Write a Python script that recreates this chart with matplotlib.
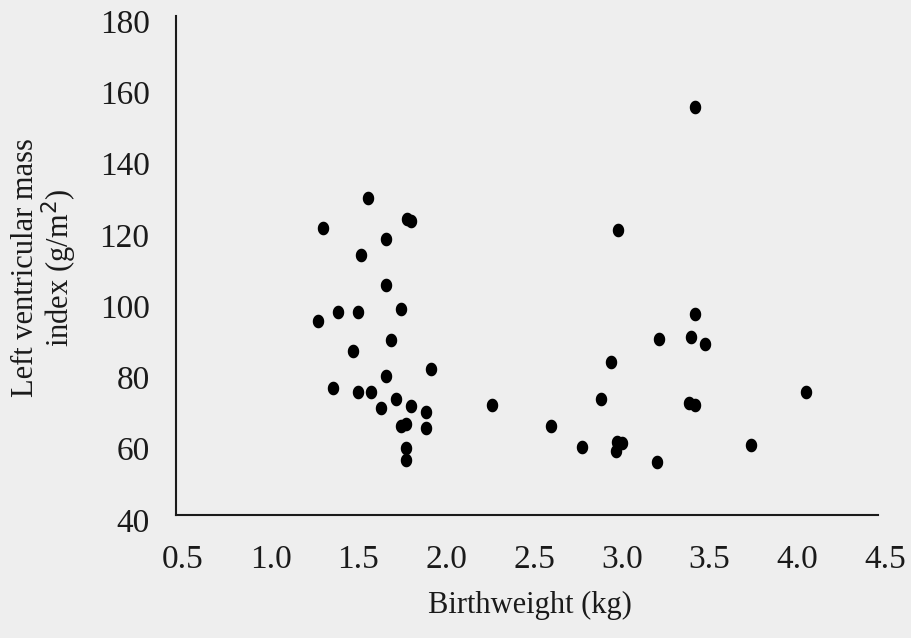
import numpy as np
import matplotlib
matplotlib.use("Agg")
import matplotlib.pyplot as plt
from matplotlib.path import Path
import matplotlib.transforms as mtransforms

birthweight = [1.592, 1.339, 1.815, 1.839, 1.695, 1.554, 1.695, 1.423, 1.535, 1.311,
               1.780, 1.725, 1.507, 1.951, 1.695, 1.395, 1.535, 1.609, 1.754, 1.668,
               1.839, 1.923, 1.923, 1.780, 1.811, 1.809, 1.809,
               3.457, 3.019, 3.457, 3.254, 3.434, 3.514, 2.979, 2.922, 2.299, 3.425,
               3.457, 4.088, 2.635, 2.812, 3.011, 3.040, 3.007, 3.239, 3.775]
lvmi = [128.9, 120.6, 123.0, 122.5, 117.4, 113.0, 104.5, 96.9, 96.9, 94.4,
        97.7, 89.2, 86.0, 81.0, 79.1, 75.7, 74.6, 74.6, 72.6, 70.1,
        70.7, 69.0, 64.5, 65.0, 65.4, 58.9, 55.4,
        154.4, 120.0, 96.4, 89.3, 90.0, 88.0, 82.9, 72.5, 70.9, 71.5,
        70.9, 74.5, 65.0, 59.2, 60.6, 60.1, 58.0, 55.0, 59.6]
x_ticks = [0.5, 1.0, 1.5, 2.0, 2.5, 3.0, 3.5, 4.0, 4.5]
y_ticks = [40, 60, 80, 100, 120, 140, 160, 180]

plt.rcParams['font.family'] = ['Liberation Serif', 'DejaVu Serif']
bg = '#eeeeee'
W, H = 912, 638
fig = plt.figure(figsize=(W / 100, H / 100), dpi=100, facecolor=bg)
ax = fig.add_axes([176 / W, (H - 515) / H, (878 - 176) / W, (515 - 16) / H])
ax.set_facecolor(bg)

t = np.linspace(0, 2 * np.pi, 60)
ell = Path(np.column_stack([0.84 * np.cos(t), np.sin(t)]), closed=True)
ax.plot(birthweight, lvmi, linestyle='none', marker=ell, markersize=9.8,
        color='black', markeredgewidth=0)

ax.set_xlim(0.5, 4.5)
ax.set_ylim(40, 180)
ax.set_xticks(x_ticks)
ax.set_xticklabels([f"{v:.1f}" for v in x_ticks])
ax.set_yticks(y_ticks)
ax.set_yticklabels([str(v) for v in y_ticks])
ax.tick_params(length=0, labelsize=24, colors='#1a1a1a')
ax.tick_params(axis='x', pad=21)
ax.tick_params(axis='y', pad=19)
for lab in ax.get_xticklabels():
    lab.set_transform(lab.get_transform() + mtransforms.ScaledTranslation(7 / 100, 0, fig.dpi_scale_trans))
for lab in ax.get_yticklabels():
    lab.set_transform(lab.get_transform() + mtransforms.ScaledTranslation(0, -5 / 100, fig.dpi_scale_trans))

for s in ['top', 'right']:
    ax.spines[s].set_visible(False)
for s in ['left', 'bottom']:
    ax.spines[s].set_linewidth(1.5)
    ax.spines[s].set_color('#1a1a1a')

fig.text(530 / W, 1 - 605 / H, 'Birthweight (kg)', ha='center', va='center',
         fontsize=22, color='#1a1a1a')
fig.text(45 / W, 1 - 268 / H, 'Left ventricular mass\nindex (g/m$^2$)', ha='center',
         va='center', rotation=90, fontsize=22, color='#1a1a1a', linespacing=1.0)

fig.savefig('out.png', dpi=100, facecolor=bg)
